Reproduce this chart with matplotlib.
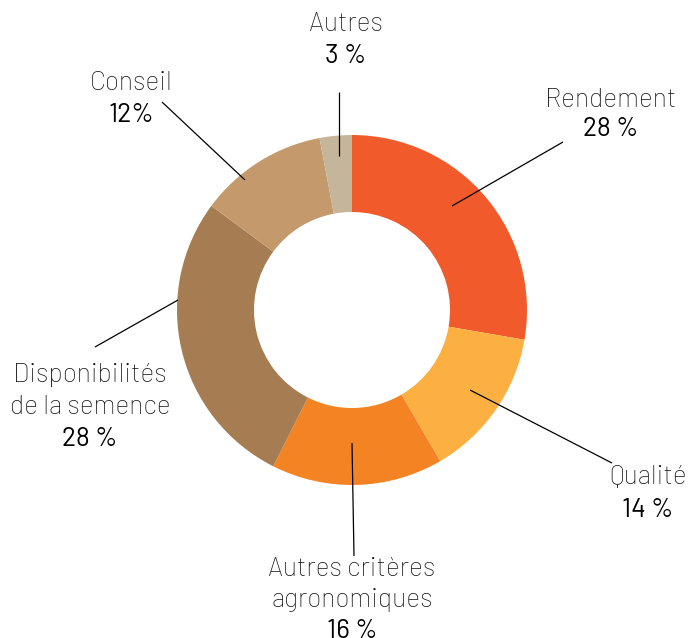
import matplotlib
matplotlib.use("Agg")
import matplotlib.pyplot as plt

# ---- data ----
categories = ["Rendement", "Qualité", "Autres critères\nagronomiques",
              "Disponibilités\nde la semence", "Conseil", "Autres"]
values = [28, 14, 16, 28, 12, 3]
pct_labels = ["28 %", "14 %", "16 %", "28 %", "12%", "3 %"]
colors = ["#F15B2B", "#FBB041", "#F48423", "#A67C52", "#C49A6C", "#C5B59B"]

W, H = 688, 638
FAMILY = ["Barlow", "Barlow Semi Condensed", "DejaVu Sans"]

fig = plt.figure(figsize=(W / 100, H / 100), dpi=100)
ax = fig.add_axes([0, 0, 1, 1])
ax.set_xlim(0, W)
ax.set_ylim(0, H)
ax.set_aspect("equal")
ax.axis("off")

cx, cy = 352, H - 310
R = 175
ax.pie(values, colors=colors, startangle=90, counterclock=False,
       center=(cx, cy), radius=R,
       wedgeprops=dict(width=77, linewidth=0))
ax.set_xlim(0, W)
ax.set_ylim(0, H)

# label layout (pixel coords from top-left): center x, name baseline y, line spacing, leader line
layout = [
    (611, 107, 29, (563, 142), (452, 206)),
    (648, 484, 33, (612, 463), (470, 390)),
    (352, 576, 31, (354, 556), (352, 443)),
    (90, 382, 32, (95, 347), (178, 300)),
    (131, 90, 32, (162, 102), (245, 180)),
    (346, 31, 32, (339, 92), (339, 156)),
]

for name, pct, (x, yb, ls, p0, p1) in zip(categories, pct_labels, layout):
    lines = name.split("\n")
    for i, ln in enumerate(lines):
        ax.text(x, H - (yb + i * ls), ln, ha="center", va="baseline",
                fontsize=19, family=FAMILY, fontweight="light", color="#111111")
    ax.text(x, H - (yb + len(lines) * ls), pct, ha="center", va="baseline",
            fontsize=19, family=FAMILY, fontweight="normal", color="#000000")
    ax.plot([p0[0], p1[0]], [H - p0[1], H - p1[1]], color="black", lw=0.9,
            solid_capstyle="butt")

fig.savefig("out.png", dpi=100)
